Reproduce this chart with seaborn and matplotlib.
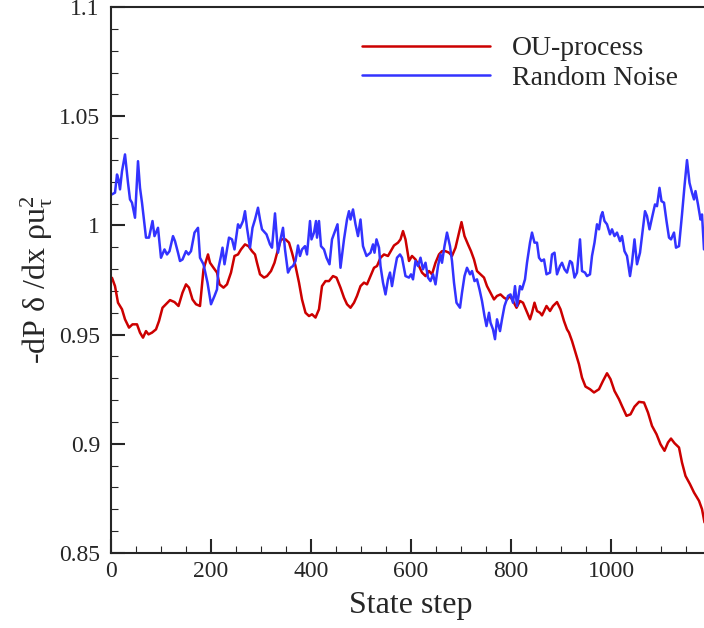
import numpy as np
import pandas as pd
import seaborn as sns
import matplotlib
matplotlib.use("Agg")
import matplotlib.pyplot as plt
from matplotlib.ticker import MultipleLocator, FuncFormatter

# values
ou_step = [2, 8, 14, 22, 28, 36, 43, 52, 58, 64, 70, 75, 82, 90, 96, 103, 110, 118, 127, 135,
           143, 150, 156, 163, 170, 178, 185, 194, 198, 205, 212, 217, 225, 232, 240, 247, 254, 260,
           268, 275, 282, 288, 292, 298, 306, 312, 320, 327, 334, 340, 349, 356, 362, 369, 376, 382,
           389, 396, 402, 409, 416, 422, 429, 436, 444, 451, 459, 466, 472, 479, 486, 492, 499, 506,
           512, 519, 526, 532, 539, 546, 554, 559, 566, 574, 579, 584, 589, 596, 602, 609, 616, 622,
           629, 636, 642, 649, 656, 662, 669, 676, 682, 689, 696, 701, 707, 714, 720, 726, 732, 739,
           746, 752, 759, 766, 772, 779, 786, 792, 798, 804, 811, 818, 824, 831, 838, 842, 847, 852,
           858, 862, 871, 878, 884, 892, 899, 906, 912, 916, 922, 929, 936, 942, 949, 958, 966, 976,
           984, 992, 999, 1007, 1016, 1022, 1031, 1039, 1047, 1056, 1066, 1074, 1082, 1091, 1099,
           1107, 1114, 1120, 1127, 1136, 1142, 1149, 1158, 1166, 1176, 1182, 1187]
ou_val = [0.976, 0.9722, 0.9646, 0.9616, 0.957, 0.9532, 0.9547, 0.9547, 0.9509, 0.9486, 0.9516,
          0.9501, 0.9509, 0.9524, 0.9562, 0.9623, 0.9639, 0.9658, 0.9649, 0.9631, 0.9692, 0.973,
          0.9715, 0.9661, 0.9639, 0.9631, 0.9799, 0.9867, 0.9829, 0.9806, 0.9784, 0.973, 0.9715,
          0.973, 0.9784, 0.986, 0.9867, 0.989, 0.9913, 0.9905, 0.9882, 0.9867, 0.9829, 0.9776,
          0.9761, 0.9768, 0.9791, 0.9829, 0.989, 0.9936, 0.9936, 0.9921, 0.9875, 0.9814, 0.9738,
          0.9661, 0.96, 0.9585, 0.9593, 0.9578, 0.9616, 0.9722, 0.9745, 0.9745, 0.9768, 0.9761,
          0.9715, 0.9669, 0.9639, 0.9623, 0.9646, 0.9677, 0.9722, 0.9738, 0.973, 0.9768, 0.9806,
          0.9814, 0.9852, 0.9867, 0.986, 0.988, 0.9908, 0.9921, 0.9936, 0.9974, 0.9936, 0.9837,
          0.986, 0.9844, 0.9814, 0.9784, 0.9768, 0.9791, 0.9776, 0.9829, 0.9867, 0.9882, 0.9882,
          0.9875, 0.986, 0.9898, 0.9967, 1.0015, 0.9951, 0.9913, 0.9882, 0.9844, 0.9791, 0.9776,
          0.9761, 0.9722, 0.9692, 0.9661, 0.9677, 0.9684, 0.9669, 0.9661, 0.9677, 0.9654, 0.9623,
          0.9654, 0.9646, 0.9608, 0.957, 0.96, 0.9646, 0.9608, 0.96, 0.9588, 0.9631, 0.9608,
          0.9631, 0.9649, 0.9616, 0.9562, 0.9524, 0.9509, 0.9471, 0.9418, 0.9364, 0.9303, 0.9262,
          0.925, 0.9235, 0.925, 0.9288, 0.9323, 0.9296, 0.9242, 0.9204, 0.9173, 0.9128, 0.9135,
          0.917, 0.9192, 0.9189, 0.9143, 0.9082, 0.9044, 0.8998, 0.8968, 0.9006, 0.9024, 0.9003,
          0.8983, 0.8914, 0.8853, 0.8815, 0.8777, 0.8739, 0.8701, 0.864]

noise_step = [2, 8, 12, 15, 18, 22, 28, 34, 38, 42, 48, 54, 58, 62, 70, 76, 83, 87, 94, 100, 107,
              112, 117, 124, 128, 134, 138, 143, 150, 155, 160, 167, 174, 178, 185, 193, 200, 207,
              212, 215, 220, 223, 227, 232, 236, 242, 247, 254, 258, 264, 268, 272, 278, 283, 288,
              294, 298, 302, 311, 318, 322, 328, 334, 339, 344, 348, 354, 359, 364, 369, 374, 378,
              382, 388, 392, 398, 401, 406, 410, 412, 416, 420, 426, 431, 437, 442, 447, 453, 459,
              466, 472, 476, 479, 484, 489, 494, 499, 504, 511, 519, 524, 527, 531, 536, 539, 544,
              549, 554, 558, 562, 567, 572, 578, 582, 589, 596, 600, 604, 609, 614, 619, 624, 629,
              634, 639, 644, 649, 654, 659, 662, 667, 672, 678, 682, 686, 691, 698, 702, 707, 712,
              718, 722, 727, 732, 737, 742, 747, 751, 756, 759, 764, 768, 772, 778, 782, 787, 794,
              799, 804, 808, 812, 818, 822, 828, 832, 838, 842, 847, 852, 856, 861, 866, 871, 878,
              882, 887, 892, 898, 902, 907, 912, 918, 922, 927, 932, 938, 942, 948, 952, 958, 962,
              967, 972, 976, 980, 983, 987, 992, 998, 1002, 1007, 1012, 1018, 1022, 1027, 1032,
              1038, 1042, 1047, 1052, 1058, 1062, 1068, 1072, 1077, 1082, 1088, 1092, 1097, 1101,
              1106, 1111, 1116, 1120, 1126, 1130, 1136, 1142, 1147, 1152, 1157, 1162, 1166, 1169,
              1174, 1179, 1182, 1186]
noise_val = [1.0142, 1.015, 1.0233, 1.021, 1.0165, 1.0248, 1.0325, 1.0195, 1.0119, 1.0104, 1.0035,
             1.0294, 1.0172, 1.0104, 0.9944, 0.9944, 1.002, 0.9951, 0.9989, 0.9852, 0.989, 0.9867,
             0.9882, 0.9951, 0.9928, 0.9875, 0.9837, 0.9844, 0.9882, 0.9867, 0.9882, 0.9967, 0.9989,
             0.9852, 0.9822, 0.9738, 0.9639, 0.9677, 0.9707, 0.9806, 0.986, 0.9898, 0.9822, 0.989,
             0.9944, 0.9936, 0.989, 1.0005, 0.9989, 1.002, 1.0065, 0.9989, 0.9898, 0.9989, 1.0027,
             1.0081, 1.0027, 0.9982, 0.9959, 0.9913, 0.9898, 1.0055, 0.9875, 0.9936, 0.9989, 0.989,
             0.9784, 0.9806, 0.9814, 0.9837, 0.9908, 0.986, 0.989, 0.9905, 0.9867, 1.002, 0.9936,
             0.9967, 1.002, 0.9944, 1.002, 0.9905, 0.989, 0.9852, 0.9822, 0.9936, 0.9967, 1.0005,
             0.9806, 0.9936, 1.0027, 1.0065, 1.0027, 1.0073, 1.0005, 0.9951, 1.0027, 0.9905, 0.986,
             0.9875, 0.9913, 0.9875, 0.9936, 0.9898, 0.9814, 0.9738, 0.9684, 0.9753, 0.9784, 0.9722,
             0.9791, 0.9852, 0.9867, 0.9852, 0.9768, 0.9761, 0.9776, 0.9753, 0.9837, 0.9814, 0.9852,
             0.9799, 0.9829, 0.9761, 0.9745, 0.9776, 0.973, 0.9814, 0.9867, 0.9829, 0.9905, 0.9967,
             0.9905, 0.9837, 0.9738, 0.9646, 0.9623, 0.9692, 0.9768, 0.9806, 0.9776, 0.9791, 0.9745,
             0.9753, 0.9707, 0.9654, 0.9585, 0.9539, 0.96, 0.9555, 0.9524, 0.9479, 0.957, 0.9516,
             0.957, 0.9631, 0.9677, 0.9684, 0.9646, 0.9722, 0.9631, 0.9722, 0.9707, 0.9753, 0.9829,
             0.9921, 0.9967, 0.9921, 0.9921, 0.9852, 0.9837, 0.9844, 0.9776, 0.9784, 0.9867, 0.9875,
             0.9776, 0.9814, 0.9829, 0.9799, 0.9784, 0.9837, 0.9829, 0.9761, 0.9784, 0.9936, 0.9791,
             0.9784, 0.9768, 0.9776, 0.986, 0.9921, 1.0005, 0.9982, 1.0043, 1.0061, 1.002, 1.0005,
             0.9959, 0.9982, 0.9951, 0.9967, 0.9928, 0.9951, 0.9882, 0.986, 0.9768, 0.9829, 0.9936,
             0.9822, 0.9875, 0.9951, 1.0065, 1.0043, 0.9982, 1.0035, 1.0096, 1.0088, 1.0172, 1.0111,
             1.0104, 1.002, 0.9944, 0.9936, 0.9967, 0.9898, 0.9905, 1.005, 1.018, 1.0299, 1.0195,
             1.015, 1.0119, 1.0157, 1.0096, 1.0027, 1.005, 0.989]

df = pd.concat([
    pd.DataFrame({"step": ou_step, "value": ou_val, "series": "OU-process"}),
    pd.DataFrame({"step": noise_step, "value": noise_val, "series": "Random Noise"}),
])

sns.set_style("ticks")
plt.rcParams["font.family"] = ["Liberation Serif", "DejaVu Serif"]
plt.rcParams["mathtext.fontset"] = "custom"
plt.rcParams["mathtext.rm"] = "Liberation Serif"
plt.rcParams["mathtext.it"] = "Liberation Serif:italic"

fig = plt.figure(figsize=(7.04, 6.28), dpi=100)
ax = fig.add_axes([111 / 704, 75 / 628, 600 / 704, 546 / 628])

sns.lineplot(data=df, x="step", y="value", hue="series", estimator=None,
             palette={"OU-process": "#cc0000", "Random Noise": "#3333ff"},
             linewidth=1.8, ax=ax)

ax.set_xlim(0, 1200)
ax.set_ylim(0.85, 1.1)
ax.xaxis.set_major_locator(MultipleLocator(200))
ax.xaxis.set_minor_locator(MultipleLocator(50))
ax.yaxis.set_major_locator(MultipleLocator(0.05))
ax.yaxis.set_minor_locator(MultipleLocator(0.01))
ax.yaxis.set_major_formatter(FuncFormatter(lambda v, p: "{:g}".format(round(v, 3))))
ax.xaxis.set_major_formatter(FuncFormatter(lambda v, p: "{:g}".format(v) if v <= 1000 else ""))

ax.tick_params(which="major", direction="in", length=10, width=1.5, labelsize=17)
ax.tick_params(axis="y", which="major", pad=8)
ax.tick_params(axis="x", which="major", pad=6)
ax.tick_params(which="minor", direction="in", length=5, width=0.8)
for s in ax.spines.values():
    s.set_linewidth(1.5)

ax.set_xlabel("State step", fontsize=23, labelpad=6)
ax.set_ylabel(r"-dP δ /dx ρu$\mathregular{_\tau^2}$", fontsize=23, labelpad=3)

ax.legend(loc="upper left", bbox_to_anchor=(362 / 704, 1 - 36 / 628),
          bbox_transform=fig.transFigure, frameon=False, fontsize=20,
          handlelength=4.6, handletextpad=0.8, labelspacing=0.15,
          borderpad=0, borderaxespad=0)

fig.savefig("out.png", dpi=100)
